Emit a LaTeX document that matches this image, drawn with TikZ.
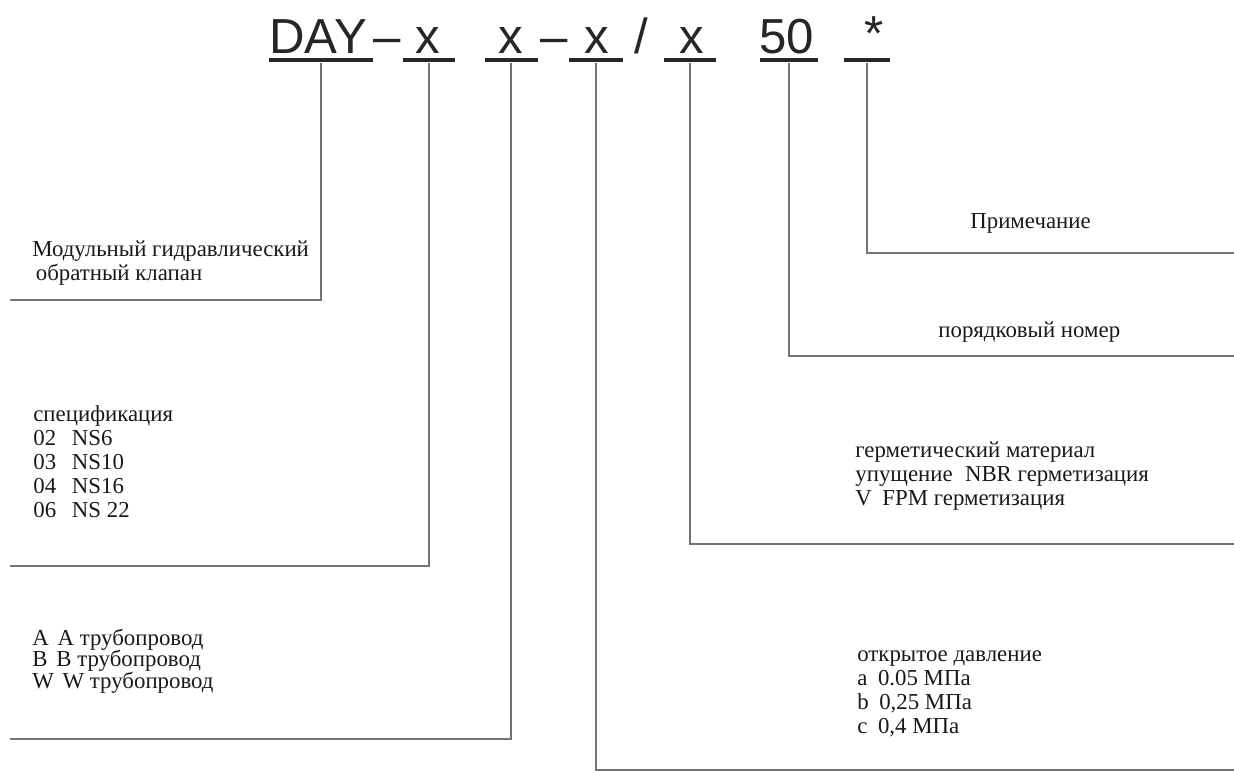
\documentclass[tikz,border=0pt]{standalone}
\usepackage{fontspec}
\setmainfont{Liberation Serif}
\newfontfamily\codefont{Liberation Sans}

\begin{document}
\begin{tikzpicture}[x=0.02cm, y=-0.02cm,
  code/.style={inner sep=0pt, anchor=base west, font=\codefont\fontsize{28}{28}\selectfont, text=black!85},
  bar/.style={rectangle, fill=black!85, inner sep=0pt, minimum height=0.09cm},
  lead/.style={line width=1.6pt, black!55},
  desc/.style={inner sep=0pt, anchor=base west, align=left, font=\fontsize{13}{13.6}\selectfont, text=black!90}]

 \useasboundingbox (0,0) rectangle (1234,774);

 % type code
 \node (day) [code] at (269,53) {DAY};
 \node (dash1) [code] at (373,53) {–};
 \node (xa) [code] at (415,53) {x};
 \node (xb) [code] at (498,53) {x};
 \node (dash2) [code] at (540,53) {–};
 \node (xc) [code] at (584,53) {x};
 \node (slash) [code] at (634,53) {/};
 \node (xd) [code] at (679,53) {x};
 \node (num) [code] at (759,53) {50};
 \node (star) [code] at (864,51) {*};

 % bars under the code
 \node (bday) [bar, minimum width=2.1cm] at (321,60) {};
 \node (bxa) [bar, minimum width=1.04cm] at (429,60) {};
 \node (bxb) [bar, minimum width=1.06cm] at (511,60) {};
 \node (bxc) [bar, minimum width=1.08cm] at (596,60) {};
 \node (bxd) [bar, minimum width=1.04cm] at (690,60) {};
 \node (bnum) [bar, minimum width=1.16cm] at (789,60) {};
 \node (bstar) [bar, minimum width=0.92cm] at (867,60) {};

 % free ends of the leaders
 \coordinate (eday) at (10,300);
 \coordinate (exa) at (10,566);
 \coordinate (exb) at (10,739);
 \coordinate (exc) at (1234,770);
 \coordinate (exd) at (1234,544);
 \coordinate (enum) at (1234,356);
 \coordinate (estar) at (1234,253);

 \draw[lead] (bday) |- (eday);
 \draw[lead] (bxa) |- (exa);
 \draw[lead] (bxb) |- (exb);
 \draw[lead] (bxc) |- (exc);
 \draw[lead] (bxd) |- (exd);
 \draw[lead] (bnum) |- (enum);
 \draw[lead] (bstar) |- (estar);

 % descriptions (placed at the baseline of the last line)
 \node (tday) [desc] at (32,280) {Модульный гидравлический\\\hspace{2pt}обратный клапан};
 \node (txa) [desc] at (33,517) {спецификация\\02\hspace{9pt}NS6\\03\hspace{9pt}NS10\\04\hspace{9pt}NS16\\06\hspace{9pt}NS 22};
 \node (txb) [desc, font=\fontsize{13}{12.2}\selectfont] at (32,688) {A\hspace{5pt}A трубопровод\\B\hspace{5pt}B трубопровод\\W\hspace{5pt}W трубопровод};
 \node (txc) [desc] at (857,733) {открытое давление\\a\hspace{6pt}0.05 МПа\\b\hspace{6pt}0,25 МПа\\c\hspace{6pt}0,4 МПа};
 \node (txd) [desc] at (855,505) {герметический материал\\упущение\hspace{7pt}NBR герметизация\\V\hspace{6pt}FPM герметизация};
 \node (tnum) [desc] at (938,337) {порядковый номер};
 \node (tstar) [desc] at (970,228) {Примечание};
\end{tikzpicture}
\end{document}
